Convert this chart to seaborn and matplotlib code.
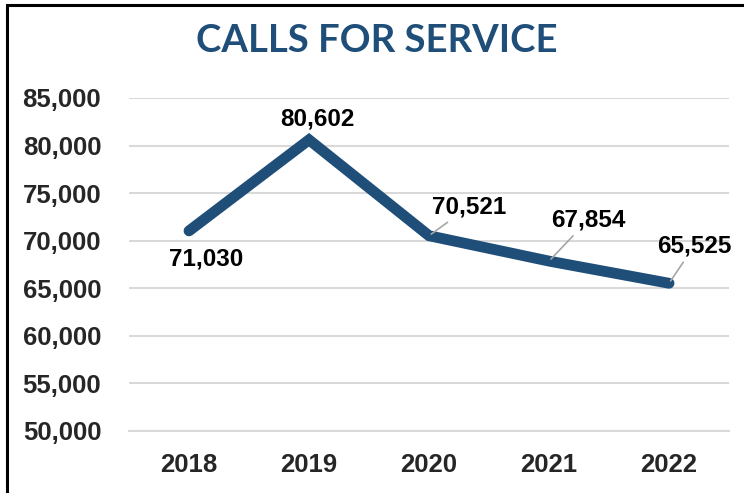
import matplotlib.pyplot as plt
import matplotlib.patches as mpatches
import pandas as pd
import seaborn as sns

years = ["2018", "2019", "2020", "2021", "2022"]
calls = [71030, 80602, 70521, 67854, 65525]
y_ticks = [50000, 55000, 60000, 65000, 70000, 75000, 80000, 85000]
title = "CALLS FOR SERVICE"

# label offsets in pixels, and whether a leader line is drawn
label_offsets = [(17, -28), (8, 21), (40, 29), (39, 41), (25, 37)]
leader = [False, False, True, True, True]

BLUE = "#1F4E79"
GRID = "#D9D9D9"

sns.set_style("white")
plt.rcParams["font.family"] = ["Liberation Sans", "DejaVu Sans"]

df = pd.DataFrame({"year": years, "calls": calls})

fig = plt.figure(figsize=(7.44, 4.93), dpi=100)
ax = fig.add_axes([0.1734, 0.1258, 0.8065, 0.6755])

sns.lineplot(data=df, x="year", y="calls", ax=ax, color=BLUE, linewidth=7.8,
             solid_capstyle="round", solid_joinstyle="miter", sort=False)

ax.set_ylim(50000, 85000)
ax.set_xlim(-0.5, 4.5)
ax.set_yticks(y_ticks)
ax.set_yticklabels([f"{v:,}" for v in y_ticks])
ax.yaxis.grid(True, color=GRID, linewidth=1.5)
ax.set_axisbelow(True)
for side in ["top", "right", "left"]:
    ax.spines[side].set_visible(False)
ax.spines["bottom"].set_color(GRID)
ax.spines["bottom"].set_linewidth(1.5)
ax.tick_params(axis="both", length=0)
ax.tick_params(axis="y", labelsize=18.5, pad=20)
ax.tick_params(axis="x", labelsize=18.5, pad=16)
for lbl in ax.get_xticklabels() + ax.get_yticklabels():
    lbl.set_fontweight("bold")
ax.set_xlabel("")
ax.set_ylabel("")

for i, v in enumerate(calls):
    arrow = dict(arrowstyle="-", color="#A6A6A6", lw=1.2, shrinkA=1, shrinkB=2) if leader[i] else None
    ax.annotate(f"{v:,}", xy=(i, v), xytext=label_offsets[i], textcoords="offset pixels",
                ha="center", va="center", fontsize=17.5, fontweight="bold",
                color="#000000", arrowprops=arrow)

fig.text(0.507, 0.917, title, ha="center", va="center", fontsize=27.5,
         fontweight="bold", color=BLUE, family=["Lato", "DejaVu Sans"])

frame = mpatches.Rectangle((0.0094, -0.2), 1.2, 1.1899, transform=fig.transFigure,
                           fill=False, edgecolor="black", linewidth=2.2, clip_on=False)
fig.patches.append(frame)

fig.savefig("out.png", dpi=100)
